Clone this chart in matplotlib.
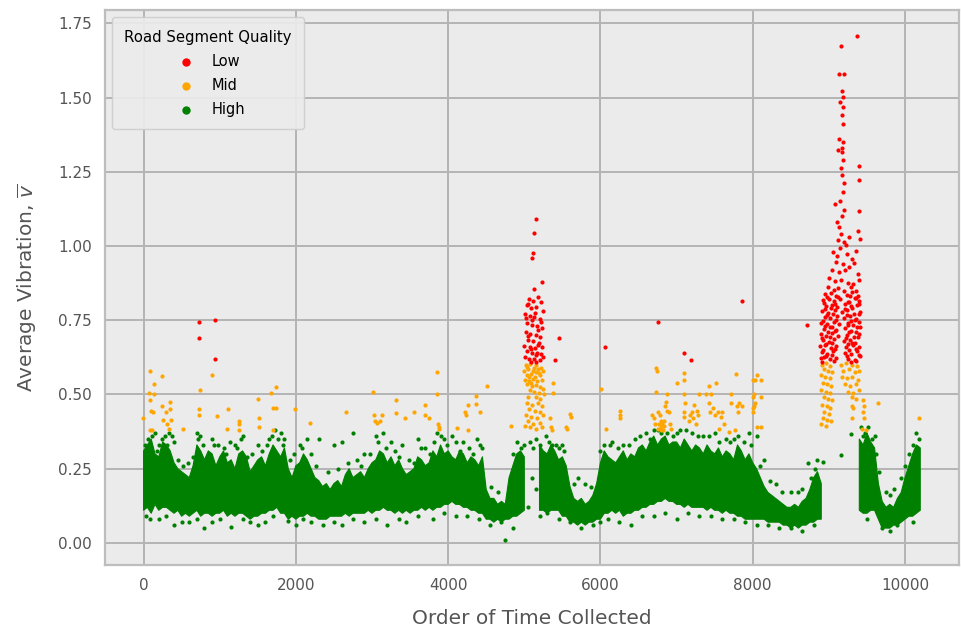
import numpy as np
import matplotlib
matplotlib.use("Agg")
import matplotlib.pyplot as plt

# ---- data ----
# dense "High" band: lower / upper edge every 50 samples (nan = no band there)
nan = np.nan
band_x = list(range(0, 10201, 50))
band_lo = [0.11, 0.12, 0.10, 0.13, 0.11, 0.12, 0.12, 0.11, 0.10, 0.11,
           0.09, 0.10, 0.09, 0.10, 0.11, 0.09, 0.10, 0.10, 0.09, 0.10,
           0.10, 0.11, 0.09, 0.10, 0.09, 0.10, 0.10, 0.09, 0.08, 0.09,
           0.09, 0.10, 0.10, 0.11, 0.11, 0.12, 0.10, 0.10, 0.08, 0.09,
           0.08, 0.09, 0.09, 0.10, 0.09, 0.09, 0.08, 0.08, 0.08, 0.09,
           0.09, 0.09, 0.09, 0.10, 0.09, 0.10, 0.10, 0.10, 0.10, 0.11,
           0.10, 0.11, 0.11, 0.12, 0.11, 0.11, 0.10, 0.11, 0.10, 0.11,
           0.10, 0.11, 0.11, 0.12, 0.11, 0.12, 0.11, 0.12, 0.12, 0.13,
           0.13, 0.14, 0.13, 0.13, 0.12, 0.12, 0.11, 0.11, 0.10, 0.10,
           0.08, 0.08, 0.07, 0.08, 0.07, 0.08, 0.08, 0.09, 0.09, 0.10,
           0.11, nan, nan, nan, 0.11, 0.11, 0.10, 0.11, 0.11, 0.11,
           0.09, 0.09, 0.07, 0.07, 0.06, 0.07, 0.06, 0.07, 0.07, 0.08,
           0.08, 0.10, 0.10, 0.11, 0.10, 0.11, 0.09, 0.10, 0.10, 0.11,
           0.11, 0.12, 0.12, 0.13, 0.13, 0.14, 0.14, 0.15, 0.14, 0.14,
           0.13, 0.13, 0.12, 0.13, 0.12, 0.12, 0.12, 0.12, 0.11, 0.12,
           0.11, 0.11, 0.10, 0.11, 0.10, 0.10, 0.09, 0.09, 0.08, 0.08,
           0.08, 0.08, 0.08, 0.08, 0.07, 0.07, 0.07, 0.07, 0.06, 0.06,
           0.05, 0.06, 0.05, 0.06, 0.06, 0.07, 0.07, 0.08, 0.08, nan,
           nan, nan, nan, nan, nan, nan, nan, nan, 0.11, 0.10,
           0.10, 0.11, 0.11, 0.08, 0.05, 0.05, 0.05, 0.06, 0.06, 0.07,
           0.08, 0.09, 0.09, 0.10, 0.11]
band_hi = [0.31, 0.33, 0.35, 0.30, 0.29, 0.34, 0.33, 0.31, 0.27, 0.25,
           0.24, 0.23, 0.22, 0.26, 0.33, 0.31, 0.28, 0.31, 0.30, 0.26,
           0.29, 0.31, 0.27, 0.28, 0.25, 0.30, 0.31, 0.29, 0.24, 0.26,
           0.28, 0.29, 0.26, 0.30, 0.33, 0.31, 0.29, 0.32, 0.25, 0.22,
           0.26, 0.27, 0.30, 0.28, 0.25, 0.22, 0.21, 0.19, 0.20, 0.18,
           0.20, 0.21, 0.19, 0.23, 0.25, 0.22, 0.23, 0.24, 0.22, 0.25,
           0.27, 0.28, 0.31, 0.30, 0.27, 0.29, 0.26, 0.28, 0.25, 0.23,
           0.24, 0.25, 0.29, 0.28, 0.26, 0.27, 0.31, 0.29, 0.33, 0.30,
           0.31, 0.29, 0.28, 0.31, 0.30, 0.27, 0.29, 0.28, 0.26, 0.29,
           0.18, 0.15, 0.15, 0.13, 0.14, 0.13, 0.22, 0.26, 0.30, 0.31,
           0.29, nan, nan, nan, 0.33, 0.31, 0.30, 0.33, 0.31, 0.28,
           0.29, 0.26, 0.19, 0.15, 0.14, 0.15, 0.13, 0.14, 0.16, 0.20,
           0.27, 0.31, 0.29, 0.28, 0.27, 0.29, 0.31, 0.28, 0.30, 0.29,
           0.32, 0.33, 0.31, 0.34, 0.36, 0.33, 0.35, 0.36, 0.33, 0.34,
           0.34, 0.32, 0.35, 0.33, 0.31, 0.33, 0.32, 0.30, 0.33, 0.31,
           0.30, 0.32, 0.29, 0.31, 0.30, 0.28, 0.33, 0.31, 0.28, 0.30,
           0.27, 0.25, 0.22, 0.19, 0.17, 0.16, 0.15, 0.14, 0.13, 0.12,
           0.12, 0.13, 0.12, 0.14, 0.15, 0.18, 0.22, 0.24, 0.20, nan,
           nan, nan, nan, nan, nan, nan, nan, nan, 0.35, 0.33,
           0.37, 0.34, 0.32, 0.20, 0.14, 0.12, 0.13, 0.12, 0.15, 0.17,
           0.22, 0.26, 0.30, 0.33, 0.32]

# loose "High" points around the band
high_pts = [(60, 0.35), (150, 0.37), (200, 0.33), (280, 0.36), (330, 0.37), (400, 0.34),
            (700, 0.37), (740, 0.36), (900, 0.35), (920, 0.33), (1050, 0.32), (1200, 0.33),
            (1300, 0.36), (1500, 0.33), (1650, 0.35), (1720, 0.38), (1800, 0.37), (1850, 0.35),
            (2050, 0.33), (2150, 0.35), (2300, 0.35), (2500, 0.33), (2600, 0.34), (2750, 0.37),
            (2900, 0.30), (3050, 0.36), (3150, 0.37), (3250, 0.34), (3400, 0.33), (3600, 0.35),
            (3700, 0.32), (3850, 0.37), (3950, 0.35), (4050, 0.36), (4200, 0.34), (4380, 0.35),
            (4450, 0.32), (4850, 0.30), (5000, 0.33), (5080, 0.34), (5120, 0.32), (5150, 0.35),
            (5200, 0.33), (5250, 0.30), (5100, 0.22), (5160, 0.18), (5330, 0.34), (5420, 0.33),
            (5500, 0.33), (5700, 0.22), (5800, 0.20), (6050, 0.33), (6150, 0.34), (6300, 0.33),
            (6450, 0.35), (6600, 0.37), (6700, 0.38), (6800, 0.37), (6950, 0.36), (7050, 0.38),
            (7200, 0.37), (7350, 0.36), (7500, 0.37), (7650, 0.35), (7800, 0.36), (7950, 0.37),
            (8050, 0.36), (8150, 0.28), (8300, 0.20), (8500, 0.17), (8650, 0.18), (8730, 0.27),
            (8820, 0.25), (8917, 0.274), (9160, 0.295), (9287, 0.368), (9420, 0.39), (9480, 0.37),
            (9560, 0.35), (9620, 0.30), (9750, 0.17), (9850, 0.18), (9950, 0.22), (10050, 0.30),
            (10150, 0.37), (10180, 0.35),
            (30, 0.09), (200, 0.08), (400, 0.06), (600, 0.07), (800, 0.05), (1000, 0.08),
            (1150, 0.055), (1400, 0.07), (1600, 0.07), (1900, 0.075), (2100, 0.08), (2350, 0.06),
            (2600, 0.06), (2900, 0.07), (3200, 0.06), (3450, 0.07), (3800, 0.08), (4100, 0.09),
            (4400, 0.08), (4700, 0.07), (4750, 0.01), (4850, 0.05), (5050, 0.12), (5300, 0.10),
            (5600, 0.07), (5900, 0.06), (6100, 0.08), (6400, 0.06), (6700, 0.09), (7000, 0.08),
            (7300, 0.09), (7600, 0.08), (7900, 0.07), (8200, 0.06), (8500, 0.05), (8800, 0.06),
            (9700, 0.05), (9900, 0.06)]
high_edge = [(20, 0.33), (110, 0.36), (170, 0.31), (240, 0.35), (310, 0.33), (370, 0.36),
             (450, 0.28), (520, 0.26), (580, 0.27), (650, 0.29), (720, 0.35), (780, 0.33),
             (860, 0.30), (980, 0.33), (1080, 0.30), (1130, 0.34), (1230, 0.32), (1280, 0.35),
             (1360, 0.29), (1420, 0.30), (1560, 0.31), (1620, 0.33), (1690, 0.36), (1760, 0.35),
             (1830, 0.33), (1920, 0.28), (1980, 0.30), (2080, 0.32), (2200, 0.30), (2270, 0.26),
             (2420, 0.24), (2550, 0.25), (2680, 0.27), (2800, 0.28), (2850, 0.26), (2980, 0.30),
             (3080, 0.34), (3180, 0.32), (3300, 0.31), (3350, 0.29), (3480, 0.28), (3550, 0.27),
             (3640, 0.32), (3760, 0.30), (3820, 0.34), (3900, 0.36), (3980, 0.33), (4100, 0.34),
             (4160, 0.31), (4280, 0.32), (4330, 0.30), (4420, 0.33), (4560, 0.19), (4650, 0.17),
             (4900, 0.34), (4960, 0.32), (5280, 0.36), (5370, 0.33), (5450, 0.32), (5520, 0.31),
             (5650, 0.20), (5880, 0.19), (6000, 0.31), (6120, 0.33), (6230, 0.32), (6380, 0.33),
             (6520, 0.36), (6650, 0.35), (6760, 0.38), (6880, 0.37), (7000, 0.37), (7130, 0.38),
             (7280, 0.36), (7430, 0.36), (7560, 0.34), (7700, 0.34), (7760, 0.35), (7880, 0.34),
             (7980, 0.33), (8100, 0.26), (8230, 0.21), (8380, 0.17), (8600, 0.17), (8760, 0.22),
             (8850, 0.28), (9450, 0.36), (9520, 0.39), (9600, 0.36), (9660, 0.24), (9800, 0.16),
             (10000, 0.26), (10100, 0.33),
             (80, 0.08), (300, 0.09), (500, 0.07), (700, 0.08), (900, 0.07), (1300, 0.08),
             (1500, 0.06), (1700, 0.09), (2000, 0.06), (2200, 0.07), (2500, 0.07), (2750, 0.08),
             (3050, 0.08), (3350, 0.08), (3600, 0.09), (3950, 0.10), (4250, 0.09), (4550, 0.06),
             (5200, 0.09), (5450, 0.08), (5750, 0.05), (6000, 0.07), (6250, 0.07), (6550, 0.09),
             (6850, 0.10), (7150, 0.10), (7450, 0.09), (7750, 0.08), (8050, 0.06), (8350, 0.05),
             (8650, 0.04), (9500, 0.08), (9800, 0.04), (10100, 0.07)]

# "Mid" points
mid_pts = [(-13, 0.42), (75, 0.505), (83, 0.58), (83, 0.48), (90, 0.38), (100, 0.445),
           (110, 0.38), (132, 0.535), (132, 0.50), (120, 0.44), (238, 0.563), (238, 0.46),
           (260, 0.415), (300, 0.44), (310, 0.40), (340, 0.385), (352, 0.474), (360, 0.415),
           (352, 0.45), (515, 0.384), (730, 0.45), (730, 0.43), (735, 0.514), (902, 0.566),
           (964, 0.427), (1100, 0.384), (1110, 0.45), (1250, 0.41), (1250, 0.40), (1255, 0.38),
           (1506, 0.485), (1510, 0.42), (1510, 0.39), (1674, 0.505), (1735, 0.525), (1700, 0.455),
           (1735, 0.455), (1700, 0.38), (1990, 0.45),
           (2190, 0.405), (2660, 0.44), (3016, 0.508), (3020, 0.43), (3040, 0.41), (3070, 0.405),
           (3110, 0.41), (3130, 0.43), (3320, 0.483), (3320, 0.436), (3435, 0.42), (3553, 0.44),
           (3694, 0.463), (3700, 0.43), (3750, 0.42), (3853, 0.575), (3860, 0.50), (3865, 0.40),
           (3875, 0.39), (3880, 0.385),
           (4117, 0.388), (4227, 0.44), (4240, 0.43), (4258, 0.379), (4267, 0.466), (4368, 0.494),
           (4368, 0.467), (4420, 0.44), (4509, 0.53), (4831, 0.393),
           (5337, 0.42), (5350, 0.39), (5360, 0.38), (5372, 0.54), (5380, 0.505), (5548, 0.39),
           (5560, 0.385), (5600, 0.435), (5610, 0.425), (6006, 0.52), (6073, 0.385), (6255, 0.445),
           (6255, 0.43), (6260, 0.42),
           (6680, 0.43), (6700, 0.42), (6720, 0.40), (6730, 0.59), (6740, 0.58), (6730, 0.51),
           (6760, 0.44), (6780, 0.43), (6790, 0.41), (6800, 0.39), (6820, 0.38), (6840, 0.395),
           (6850, 0.46), (6860, 0.475), (6870, 0.50), (6880, 0.445), (6900, 0.44), (6920, 0.40),
           (6930, 0.385), (6810, 0.40), (6830, 0.41), (6770, 0.40), (6790, 0.38), (6750, 0.385),
           (7010, 0.54), (7098, 0.573), (7098, 0.548), (7100, 0.50), (7105, 0.47), (7100, 0.44),
           (7100, 0.425), (7160, 0.41), (7180, 0.43), (7200, 0.44), (7220, 0.42), (7230, 0.465),
           (7250, 0.40), (7270, 0.445), (7280, 0.43), (7296, 0.503), (7380, 0.50), (7428, 0.53),
           (7455, 0.50), (7420, 0.47), (7440, 0.44), (7480, 0.455), (7500, 0.43), (7516, 0.539),
           (7540, 0.44), (7580, 0.425), (7600, 0.44), (7620, 0.40), (7560, 0.385), (7690, 0.375),
           (7720, 0.50), (7720, 0.47), (7770, 0.38), (7780, 0.57), (7790, 0.46), (7800, 0.44),
           (7820, 0.47), (7860, 0.46), (8000, 0.55), (8000, 0.49), (8005, 0.455), (8010, 0.44),
           (8054, 0.567), (8110, 0.55), (8030, 0.55), (8020, 0.50), (8110, 0.49), (8030, 0.47),
           (8015, 0.46), (8060, 0.39), (8110, 0.39),
           (9450, 0.483), (9455, 0.46), (9450, 0.44), (9460, 0.42), (9440, 0.385), (9490, 0.38),
           (9300, 0.46), (9320, 0.455), (9300, 0.42), (9640, 0.47), (10190, 0.42)]

# "Mid" points in the two peaks
mid_peak1 = [(5020, 0.60), (5080, 0.602), (5150, 0.598), (5220, 0.59), (5000, 0.58), (5050, 0.585),
             (5110, 0.578), (5180, 0.585), (5240, 0.58), (5030, 0.565), (5090, 0.57), (5140, 0.56),
             (5200, 0.565), (5010, 0.55), (5060, 0.545), (5120, 0.552), (5170, 0.545), (5230, 0.55),
             (5040, 0.535), (5100, 0.53), (5160, 0.532), (5210, 0.525), (5070, 0.515), (5130, 0.51),
             (5190, 0.505), (5250, 0.52), (5050, 0.49), (5150, 0.49), (5210, 0.485), (5260, 0.50),
             (5030, 0.47), (5100, 0.465), (5180, 0.47), (5230, 0.46), (5060, 0.45), (5140, 0.445),
             (5200, 0.44), (5020, 0.43), (5090, 0.425), (5170, 0.42), (5250, 0.43), (5050, 0.41),
             (5120, 0.40), (5210, 0.405), (5010, 0.395), (5080, 0.39), (5150, 0.385), (5230, 0.39),
             (5035, 0.592), (5125, 0.588), (5195, 0.572), (5065, 0.56), (5155, 0.575), (5085, 0.54)]
mid_peak2 = [(8910, 0.60), (8960, 0.605), (9010, 0.595), (8930, 0.585), (8990, 0.58), (9040, 0.575),
             (8900, 0.565), (8950, 0.56), (9020, 0.555), (8920, 0.54), (8980, 0.535), (9030, 0.53),
             (8900, 0.515), (8960, 0.51), (9010, 0.505), (8930, 0.49), (8990, 0.485), (9040, 0.48),
             (8910, 0.465), (8970, 0.46), (9020, 0.455), (8940, 0.44), (9000, 0.435), (8920, 0.42),
             (8980, 0.415), (8900, 0.40), (8960, 0.395), (9030, 0.41),
             (9160, 0.60), (9230, 0.605), (9300, 0.60), (9370, 0.595), (9190, 0.58), (9260, 0.585),
             (9340, 0.575), (9400, 0.58), (9170, 0.56), (9240, 0.555), (9310, 0.56), (9380, 0.55),
             (9210, 0.535), (9280, 0.53), (9350, 0.535), (9250, 0.51), (9320, 0.505), (9390, 0.515),
             (9300, 0.49), (9360, 0.485)]

# "Low" points
low_pts = [(727, 0.745), (730, 0.69), (938, 0.75), (940, 0.62), (5460, 0.69), (5405, 0.615),
           (6060, 0.66), (6760, 0.745), (7098, 0.639), (7195, 0.615), (7856, 0.815), (8715, 0.735)]
low_peak1 = [(5148, 1.092), (5126, 1.045), (5117, 0.978), (5095, 0.96), (5236, 0.879), (5126, 0.857),
             (5180, 0.83), (5060, 0.82), (5120, 0.815), (5220, 0.81), (5030, 0.80), (5090, 0.79),
             (5160, 0.795), (5240, 0.78), (5010, 0.77), (5070, 0.765), (5130, 0.76), (5200, 0.755),
             (5040, 0.74), (5100, 0.735), (5170, 0.73), (5230, 0.725), (5020, 0.71), (5080, 0.705),
             (5150, 0.70), (5210, 0.695), (5050, 0.685), (5120, 0.68), (5190, 0.675), (5000, 0.665),
             (5070, 0.66), (5140, 0.655), (5230, 0.66), (5030, 0.645), (5100, 0.64), (5170, 0.64),
             (5220, 0.635), (5010, 0.625), (5060, 0.62), (5130, 0.62), (5200, 0.615), (5250, 0.625),
             (5090, 0.61), (5160, 0.61), (5045, 0.805), (5145, 0.775), (5105, 0.752), (5185, 0.718),
             (5055, 0.698), (5175, 0.668), (5085, 0.652), (5155, 0.632), (5025, 0.758), (5215, 0.745)]
low_peak2 = [(9375, 1.706), (9155, 1.675), (9132, 1.580), (9203, 1.581), (9168, 1.522), (9186, 1.503),
             (9141, 1.484), (9179, 1.470), (9176, 1.440), (9182, 1.410), (9128, 1.362), (9183, 1.350),
             (9168, 1.331), (9118, 1.322), (9178, 1.316), (9187, 1.290), (9158, 1.262), (9173, 1.240),
             (9198, 1.212), (9186, 1.181), (9150, 1.152), (9193, 1.121), (9168, 1.102), (9390, 1.270),
             (9402, 1.222), (9082, 1.141), (9396, 1.118), (9102, 1.082), (9131, 1.063), (9161, 1.042),
             (9118, 1.021), (9201, 1.012), (9378, 1.052), (9404, 1.024), (9262, 1.031), (9221, 1.003),
             (9058, 0.981), (9112, 0.968), (9150, 0.992), (9242, 0.972), (9301, 0.958), (9352, 0.983),
             (9088, 0.947), (9181, 0.941), (9268, 0.928), (9332, 0.944), (9041, 0.921), (9129, 0.913),
             (9212, 0.918), (9381, 0.907), (9008, 0.893), (9079, 0.882), (9162, 0.887), (9251, 0.876),
             (9318, 0.871), (9392, 0.884), (8988, 0.862), (9061, 0.853), (9121, 0.858), (9203, 0.849),
             (9288, 0.862), (9358, 0.847),
             (8952, 0.838), (9028, 0.842), (9098, 0.833), (9232, 0.836), (9309, 0.844), (9383, 0.831),
             (8921, 0.818), (9003, 0.823), (9068, 0.815), (9148, 0.821), (9262, 0.812), (9338, 0.826),
             (9402, 0.816), (8962, 0.798), (9041, 0.803), (9112, 0.794), (9209, 0.806), (9291, 0.797),
             (9371, 0.802), (8908, 0.781), (8991, 0.774), (9079, 0.786), (9172, 0.777), (9243, 0.783),
             (9328, 0.772), (9411, 0.779), (8943, 0.761), (9019, 0.756), (9101, 0.764), (9198, 0.758),
             (9279, 0.763), (9362, 0.754), (8902, 0.742), (8978, 0.736), (9062, 0.745), (9139, 0.738),
             (9251, 0.741), (9322, 0.733), (9399, 0.744), (8931, 0.721), (9012, 0.726), (9091, 0.717),
             (9208, 0.723), (9288, 0.715), (9368, 0.727), (8899, 0.703), (8962, 0.696), (9042, 0.707),
             (9118, 0.698), (9239, 0.702), (9331, 0.694), (9391, 0.705), (8922, 0.683), (9001, 0.677),
             (9071, 0.686), (9202, 0.679), (9272, 0.684), (9349, 0.675), (8888, 0.662), (8951, 0.667),
             (9031, 0.658), (9099, 0.664), (9228, 0.659), (9312, 0.668), (9401, 0.661), (8911, 0.643),
             (8979, 0.638), (9058, 0.646), (9211, 0.641), (9292, 0.636), (9369, 0.645), (8898, 0.622),
             (8942, 0.627), (9021, 0.618), (9089, 0.624), (9252, 0.621), (9338, 0.616), (9409, 0.628),
             (8980, 0.829), (9120, 0.827), (9280, 0.831), (9360, 0.826), (8935, 0.809), (9075, 0.806),
             (9250, 0.811), (9395, 0.804), (8950, 0.789), (9030, 0.791), (9215, 0.787), (9300, 0.792),
             (8975, 0.769), (9060, 0.772), (9240, 0.767), (9395, 0.771), (8920, 0.749), (9100, 0.752),
             (9290, 0.747), (9345, 0.751), (8955, 0.731), (9040, 0.729), (9250, 0.733), (9410, 0.728),
             (8985, 0.711), (9075, 0.713), (9265, 0.709), (9350, 0.712), (8915, 0.691), (9010, 0.693),
             (9220, 0.689), (9380, 0.692), (8965, 0.671), (9045, 0.673), (9250, 0.669), (9300, 0.672),
             (8920, 0.651), (9075, 0.653), (9270, 0.649), (9350, 0.652), (8960, 0.631), (9035, 0.633),
             (9240, 0.629), (9395, 0.632), (8915, 0.611), (9065, 0.613), (9285, 0.609), (9360, 0.612)]

colors = {'Low': 'red', 'Mid': 'orange', 'High': 'green'}

# ---- figure ----
fig = plt.figure(figsize=(9.61, 6.28), dpi=100)
ax = fig.add_axes([0.109, 0.100, 0.889, 0.884])
ax.set_facecolor('#ebebeb')
ax.set_axisbelow(True)
ax.grid(True, color='#b4b4b4', linewidth=1.4)
for sp in ax.spines.values():
    sp.set_color('#bdbdbd')
    sp.set_linewidth(1.6)

# dense band of High points
ax.fill_between(band_x, band_lo, band_hi, color=colors['High'], linewidth=0.8,
                edgecolor=colors['High'])

size = 9
hx, hy = zip(*(high_pts + high_edge))
ax.scatter(hx, hy, s=size, color=colors['High'], linewidths=0, label='High')

mx, my = zip(*(mid_pts + mid_peak1 + mid_peak2))
ax.scatter(mx, my, s=size, color=colors['Mid'], linewidths=0, label='Mid')

lx, ly = zip(*(low_pts + low_peak1 + low_peak2))
ax.scatter(lx, ly, s=size, color=colors['Low'], linewidths=0, label='Low')

ax.set_xlim(-510, 10710)
ax.set_ylim(-0.075, 1.795)
ax.set_xticks(range(0, 10001, 2000))
yticks = [0.0, 0.25, 0.5, 0.75, 1.0, 1.25, 1.5, 1.75]
ax.set_yticks(yticks)
ax.set_yticklabels([f'{v:.2f}' for v in yticks])
ax.tick_params(length=0, pad=9, labelsize=11, labelcolor='#555555')

ax.set_xlabel('Order of Time Collected', fontsize=14.5, color='#555555', labelpad=12)
ax.set_ylabel(r'Average Vibration, $\overline{v}$', fontsize=14.5, color='#555555', labelpad=14)

# legend in Low / Mid / High order
handles, labels = ax.get_legend_handles_labels()
order = [labels.index(k) for k in ['Low', 'Mid', 'High']]
leg = ax.legend([handles[i] for i in order], [labels[i] for i in order],
                title='Road Segment Quality', loc='upper left', fontsize=10.5,
                title_fontsize=10.7, markerscale=2.0, frameon=True,
                facecolor='#ececec', edgecolor='#cccccc', framealpha=0.9,
                borderaxespad=0.5, borderpad=0.85, labelspacing=0.62)

fig.savefig('out.png', dpi=100)
